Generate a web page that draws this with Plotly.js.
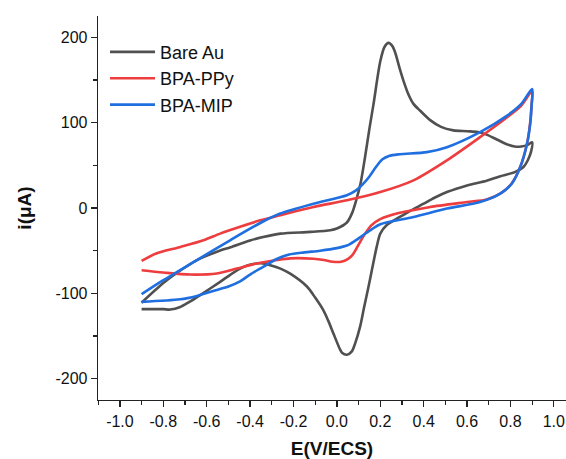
<!DOCTYPE html>
<html>
<head>
<meta charset="utf-8">
<script src="https://cdn.plot.ly/plotly-3.0.1.min.js"></script>
<style>html,body{margin:0;padding:0;background:#fff;}#chart{width:566px;height:459px;}</style>
</head>
<body>
<div id="chart"></div>
<script>
// Bare Au cyclic voltammogram (forward then reverse scan)
const bareE = [-0.90,-0.80,-0.72,-0.645,-0.55,-0.49,-0.40,-0.34,-0.26,-0.12,-0.03,0.00,0.046,0.07,0.09,0.11,0.13,0.15,0.169,0.20,0.22,0.238,0.255,0.269,0.29,0.307,0.33,0.353,0.384,0.43,0.48,0.537,0.60,0.65,0.69,0.74,0.78,0.82,0.85,0.88,0.90,
  0.895,0.88,0.86,0.82,0.75,0.69,0.60,0.51,0.45,0.40,0.34,0.29,0.23,0.20,0.184,0.165,0.146,0.125,0.107,0.085,0.069,0.046,0.025,0.015,-0.016,-0.04,-0.062,-0.10,-0.138,-0.215,-0.26,-0.307,-0.34,-0.37,-0.41,-0.446,-0.49,-0.538,-0.63,-0.68,-0.722,-0.768,-0.80,-0.86,-0.90];
const bareI = [-111,-88,-73,-61,-51,-46,-38,-34,-30,-28,-26,-24,-17,-6,10,30,60,93,122,172,189,193.5,190,182,163,149,133,122,114,103,95,91,90,89,86,80,75,72,72,74,77,
  66,56,48,42,37,32,26.5,19,12,5,-3,-10.5,-20,-30,-45,-68,-92,-117,-139,-158,-168,-172,-170,-166,-147,-132,-120,-105,-92,-77,-71,-67,-65,-65,-67,-71,-78,-86.5,-102,-110,-116,-119,-118.5,-118.5,-118.5];

// BPA-PPy
const ppyE = [-0.90,-0.83,-0.72,-0.615,-0.538,-0.446,-0.353,-0.261,-0.108,0.046,0.20,0.353,0.507,0.66,0.783,0.85,0.90,
  0.897,0.89,0.876,0.845,0.806,0.76,0.69,0.60,0.43,0.35,0.276,0.20,0.16,0.13,0.10,0.075,0.05,0.02,-0.02,-0.06,-0.108,-0.215,-0.276,-0.369,-0.461,-0.553,-0.676,-0.80,-0.90];
const ppyI = [-62,-53,-45.6,-37.8,-30,-22,-14.4,-8.5,1.2,9,18.7,32.4,55.8,83,106,120,137,
  120,98,75,48,29,18,10,7,1.2,-2.7,-6.5,-13,-20,-30,-43,-54,-60,-63,-63,-61,-59.5,-59,-61,-65,-71,-76.7,-78,-75.6,-73];

// BPA-MIP
const mipE = [-0.90,-0.80,-0.645,-0.492,-0.338,-0.261,-0.108,0.046,0.09,0.12,0.15,0.18,0.21,0.24,0.29,0.415,0.507,0.66,0.783,0.85,0.90,
  0.898,0.891,0.876,0.845,0.806,0.753,0.66,0.507,0.353,0.20,0.16,0.12,0.08,0.046,0.00,-0.077,-0.15,-0.22,-0.28,-0.34,-0.40,-0.446,-0.50,-0.553,-0.645,-0.722,-0.90];
const mipI = [-101,-84.6,-61,-37.8,-15.5,-6.5,5,15,21,28,37,48,57,61,63,65.5,71.3,89,108,122,139.5,
  122,98.7,75,48,28.5,16.8,7,-0.7,-10.5,-19,-25,-32,-39,-44,-47,-50,-52,-54.5,-60,-69,-78,-86,-92,-96,-103,-107,-110];

const seriesNames = ['Bare Au','BPA-PPy','BPA-MIP'];
const xTickVals = [-1.0,-0.8,-0.6,-0.4,-0.2,0.0,0.2,0.4,0.6,0.8,1.0];
const xTickText = ['-1.0','-0.8','-0.6','-0.4','-0.2','0.0','0.2','0.4','0.6','0.8','1.0'];
const yTickVals = [-200,-100,0,100,200];
const yTickText = ['-200','-100','0','100','200'];

const colors = ['#505050','#ee3d3f','#1f6fe0'];
const data = [[bareE,bareI],[ppyE,ppyI],[mipE,mipI]].map((d,k)=>({
  x:d[0], y:d[1], type:'scatter', mode:'lines', name:seriesNames[k],
  line:{color:colors[k], width:2.6, shape:'spline', smoothing:0.8}
}));

const axisCommon = {
  showgrid:false, zeroline:false, showline:true, linecolor:'#222', linewidth:1.3,
  ticks:'outside', ticklen:6, tickwidth:1.3, tickcolor:'#222',
  tickfont:{family:'Liberation Sans, Arial, sans-serif', size:16, color:'#111'},
  mirror:false
};
const layout = {
  width:566, height:459,
  margin:{l:98, r:0, t:16, b:59},
  paper_bgcolor:'#fff', plot_bgcolor:'#fff',
  showlegend:true,
  legend:{x:0.015, y:0.954, xanchor:'left', yanchor:'top', bgcolor:'rgba(0,0,0,0)',
    font:{family:'Liberation Sans, Arial, sans-serif', size:18, color:'#111'}, itemwidth:45, tracegroupgap:0},
  xaxis:Object.assign({}, axisCommon, {
    range:[-1.101,1.056], tickmode:'array', tickvals:xTickVals, ticktext:xTickText,
    minor:{dtick:0.1, tick0:0, ticks:'outside', ticklen:3.5, tickwidth:1.3, tickcolor:'#222', showgrid:false},
    title:{text:'<b>E(V/ECS)</b>', font:{family:'Liberation Sans, Arial, sans-serif', size:19, color:'#111'}, standoff:14}
  }),
  yaxis:Object.assign({}, axisCommon, {
    range:[-225,225], tickmode:'array', tickvals:yTickVals, ticktext:yTickText,
    minor:{dtick:50, tick0:0, ticks:'outside', ticklen:3.5, tickwidth:1.3, tickcolor:'#222', showgrid:false},
    title:{text:'<b>i(μA)</b>', font:{family:'Liberation Sans, Arial, sans-serif', size:19, color:'#111'}, standoff:18}
  })
};
Plotly.newPlot('chart', data, layout, {displayModeBar:false, staticPlot:true});
</script>
</body>
</html>
